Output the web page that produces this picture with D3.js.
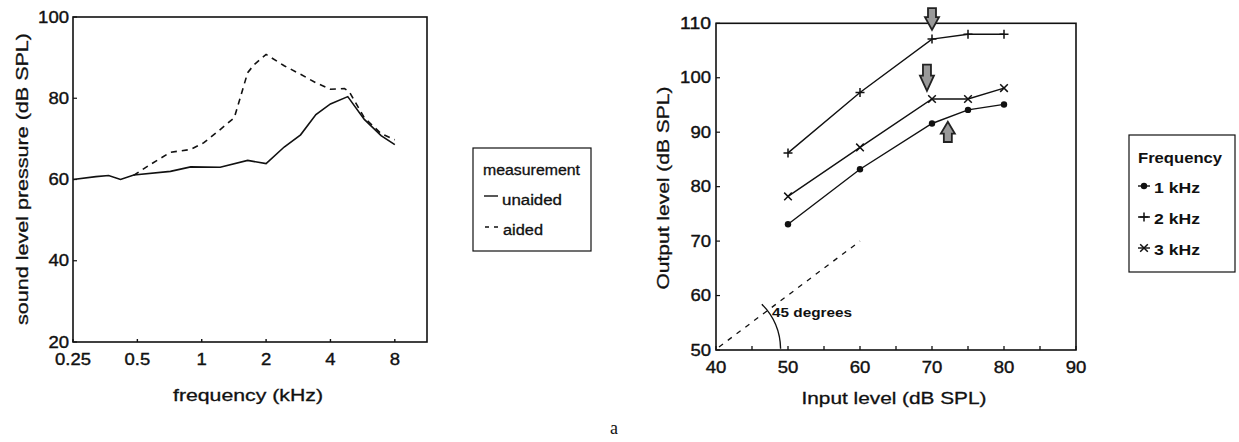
<!DOCTYPE html>
<html><head><meta charset="utf-8">
<script src="https://cdn.jsdelivr.net/npm/d3@7"></script>
<style>
body{margin:0;background:#fff;}
svg{display:block;font-family:"Liberation Sans",Arial,Helvetica,sans-serif;}
</style></head>
<body>
<svg id="c" width="1239" height="442"></svg>
<script>
// ---- Left panel data ----
const freqUnaided = [0.25,0.32,0.367,0.417,0.481,0.714,0.888,1.22,1.64,2.0,2.43,2.9,3.42,4.0,4.82,5.76,6.9,8.0];
const dbUnaided   = [60,60.7,61,60,61.1,62,63.1,63,64.7,63.9,68,71,76,78.6,80.4,74.8,70.8,68.6];
const freqAided = [0.48,0.575,0.714,0.888,1.02,1.22,1.42,1.64,1.76,2.0,2.43,2.9,3.42,4.0,4.65,4.9,5.76,6.9,8.0];
const dbAided   = [61,63.7,66.7,67.4,69,72.3,75.2,86.3,88.3,90.8,88,85.9,83.8,82.2,82.4,81.6,75.2,71.3,69.8];
const leftXTicks = [0.25,0.5,1,2,4,8];
const leftXTickLabels = ["0.25","0.5","1","2","4","8"];
const leftYTicks = [20,40,60,80,100];
const leftLegendLabels = ["unaided","aided"];

// ---- Right panel data ----
const inputLevels = [50,60,70,75,80];
const out1k = [73.1,83.2,91.6,94.1,95.1];
const out2k = [86.2,97.3,107.1,108,108];
const out3k = [78.2,87.2,96.1,96.1,98.1];
const rightLegendLabels = ["1 kHz","2 kHz","3 kHz"];
const rightXTicks = [40,50,60,70,80,90];
const rightXMinor = [45,55,65,75,85];
const rightYTicks = [50,60,70,80,90,100,110];
const diagonalX = [40,60];
const diagonalY = [50,70];
// arrows: x, tail y, tip y (data units)
const arrowX = [70,69.3,72.2];
const arrowTail = [112.8,102.4,88.2];
const arrowTip = [108.8,97.6,91.9];

const svg = d3.select("#c");
const ink = "#111";

function txt(g, x, y, s, opts={}) {
  const t = g.append("text").attr("x", x).attr("y", y).text(s)
    .attr("fill", ink).attr("font-size", opts.size || 17)
    .attr("text-anchor", opts.anchor || "start")
    .attr("dominant-baseline", opts.baseline || "auto");
  if (opts.weight) t.attr("font-weight", opts.weight);
  if (opts.heavy) t.attr("stroke", ink).attr("stroke-width", opts.heavy);
  if (opts.len) t.attr("textLength", opts.len).attr("lengthAdjust","spacingAndGlyphs");
  if (opts.rotate) t.attr("transform", `rotate(${opts.rotate},${x},${y})`);
  if (opts.family) t.attr("font-family", opts.family);
  return t;
}

// ================= LEFT PANEL =================
const L = {l:73, r:427, t:17, b:342};
const xL = d3.scaleLog().base(2).domain([0.25, 8*Math.SQRT2]).range([L.l, L.r]);
const yL = d3.scaleLinear().domain([20,100]).range([L.b, L.t]);
const gL = svg.append("g");

gL.append("rect").attr("x",L.l).attr("y",L.t).attr("width",L.r-L.l).attr("height",L.b-L.t)
  .attr("fill","none").attr("stroke",ink).attr("stroke-width",1.6);

leftYTicks.forEach(v=>{
  gL.append("line").attr("x1",L.l).attr("x2",L.l+4).attr("y1",yL(v)).attr("y2",yL(v)).attr("stroke",ink).attr("stroke-width",1.2);
  txt(gL, L.l-4, yL(v), String(v), {anchor:"end", baseline:"central", size:17, heavy:0.4, len: String(v).length*10.3});
});
leftXTicks.forEach((v,i)=>{
  gL.append("line").attr("x1",xL(v)).attr("x2",xL(v)).attr("y1",L.b).attr("y2",L.b-3).attr("stroke",ink).attr("stroke-width",1.4);
  const s = leftXTickLabels[i];
  txt(gL, xL(v), 359, s, {anchor:"middle", baseline:"central", size:17, heavy:0.4, len: s.replace(".","").length*10.3 + (s.includes(".")?5:0)});
});

const lineL = d3.line().x(d=>xL(d[0])).y(d=>yL(d[1]));
gL.append("path").datum(d3.zip(freqUnaided, dbUnaided)).attr("d", lineL)
  .attr("fill","none").attr("stroke",ink).attr("stroke-width",1.6);
gL.append("path").datum(d3.zip(freqAided, dbAided)).attr("d", lineL)
  .attr("fill","none").attr("stroke",ink).attr("stroke-width",1.6).attr("stroke-dasharray","6,5");

txt(gL, 248, 395, "frequency (kHz)", {anchor:"middle", baseline:"central", size:17, heavy:0.3, len:150});
txt(gL, 22, 179, "sound level pressure (dB SPL)", {anchor:"middle", baseline:"central", size:17, heavy:0.3, len:292, rotate:-90});

// left legend
const lg = svg.append("g");
lg.append("rect").attr("x",473).attr("y",148).attr("width",118).attr("height",103)
  .attr("fill","none").attr("stroke",ink).attr("stroke-width",1.2);
txt(lg, 483, 170, "measurement", {baseline:"central", size:14, heavy:0.3, len:97});
lg.append("line").attr("x1",484).attr("x2",498).attr("y1",196).attr("y2",196).attr("stroke",ink).attr("stroke-width",1.4);
txt(lg, 502, 200, leftLegendLabels[0], {baseline:"central", size:14, heavy:0.3, len:60});
lg.append("line").attr("x1",485).attr("x2",499).attr("y1",227).attr("y2",227).attr("stroke",ink).attr("stroke-width",1.4).attr("stroke-dasharray","4,5");
txt(lg, 503, 230, leftLegendLabels[1], {baseline:"central", size:14, heavy:0.3, len:40});

// ================= RIGHT PANEL =================
const R = {l:716, r:1076, t:23.3, b:350};
const xR = d3.scaleLinear().domain([40,90]).range([R.l, R.r]);
const yR = d3.scaleLinear().domain([50,110]).range([R.b, R.t]);
const gR = svg.append("g");

gR.append("rect").attr("x",R.l).attr("y",R.t).attr("width",R.r-R.l).attr("height",R.b-R.t)
  .attr("fill","none").attr("stroke",ink).attr("stroke-width",1.6);

rightYTicks.forEach(v=>{
  gR.append("line").attr("x1",R.l).attr("x2",R.l+4).attr("y1",yR(v)).attr("y2",yR(v)).attr("stroke",ink).attr("stroke-width",1.2);
  txt(gR, R.l-5, yR(v), String(v), {anchor:"end", baseline:"central", size:17, heavy:0.4, len: String(v).length*10.3});
});
rightXTicks.concat(rightXMinor).forEach(v=>{
  gR.append("line").attr("x1",xR(v)).attr("x2",xR(v)).attr("y1",R.b).attr("y2",R.b-4).attr("stroke",ink).attr("stroke-width",1.3);
});
rightXTicks.forEach(v=>{
  txt(gR, xR(v), 367, String(v), {anchor:"middle", baseline:"central", size:17, heavy:0.4, len: String(v).length*10.3});
});

// 45 degree dashed line
gR.append("line").attr("x1",xR(diagonalX[0])+3).attr("y1",yR(diagonalY[0])-3)
  .attr("x2",xR(diagonalX[1])).attr("y2",yR(diagonalY[1]))
  .attr("stroke",ink).attr("stroke-width",1.3).attr("stroke-dasharray","5,6");
// arc
const cx = xR(40), cy = yR(50), rad = xR(49)-xR(40);
const a0 = -Math.PI/4, a1 = -0.08;
gR.append("path").attr("d", `M${cx+rad*Math.cos(a0)},${cy+rad*Math.sin(a0)} A${rad},${rad} 0 0 1 ${cx+rad*Math.cos(a1)},${cy+rad*Math.sin(a1)+4}`)
  .attr("fill","none").attr("stroke",ink).attr("stroke-width",1.4);
txt(gR, 772, 313, "45 degrees", {baseline:"central", size:12, weight:"bold", len:80});

const lineR = d3.line().x(d=>xR(d[0])).y(d=>yR(d[1]));
const series = [out1k, out2k, out3k];
series.forEach(s=>{
  gR.append("path").datum(d3.zip(inputLevels, s)).attr("d", lineR)
    .attr("fill","none").attr("stroke",ink).attr("stroke-width",1.4);
});
function marker(g, kind, x, y) {
  if (kind===0) g.append("circle").attr("cx",x).attr("cy",y).attr("r",3.2).attr("fill",ink);
  else if (kind===1) g.append("path").attr("d",`M${x-4.5},${y}H${x+4.5}M${x},${y-4.5}V${y+4.5}`).attr("stroke",ink).attr("stroke-width",1.5);
  else g.append("path").attr("d",`M${x-3.8},${y-3.8}L${x+3.8},${y+3.8}M${x-3.8},${y+3.8}L${x+3.8},${y-3.8}`).attr("stroke",ink).attr("stroke-width",1.5);
}
series.forEach((s,k)=>{
  inputLevels.forEach((v,i)=>marker(gR,k,xR(v),yR(s[i])));
});

// arrows
arrowX.forEach((ax,i)=>{
  const x = xR(ax), y0 = yR(arrowTail[i]), y1 = yR(arrowTip[i]);
  const dir = Math.sign(y1-y0); const len = Math.abs(y1-y0);
  const hb = y0 + dir*len*0.42;
  const sw = 4, hw = 7;
  const d = `M${x-sw},${y0}L${x+sw},${y0}L${x+sw},${hb}L${x+hw},${hb}L${x},${y1}L${x-hw},${hb}L${x-sw},${hb}Z`;
  gR.append("path").attr("d",d).attr("fill","#999").attr("stroke","#222").attr("stroke-width",1.8);
});

txt(gR, 894, 398, "Input level (dB SPL)", {anchor:"middle", baseline:"central", size:17, heavy:0.3, len:185});
txt(gR, 663, 188, "Output level (dB SPL)", {anchor:"middle", baseline:"central", size:17, heavy:0.3, len:203, rotate:-90});

// right legend
const rg = svg.append("g");
rg.append("rect").attr("x",1129).attr("y",135).attr("width",106).attr("height",137)
  .attr("fill","none").attr("stroke",ink).attr("stroke-width",1.2);
txt(rg, 1138, 157, "Frequency", {baseline:"central", size:15, weight:"bold", len:84});
const legY = [186,217,248];
rightLegendLabels.forEach((s,k)=>{
  rg.append("line").attr("x1",1138).attr("x2",1150).attr("y1",legY[k]).attr("y2",legY[k]).attr("stroke",ink).attr("stroke-width",1.4);
  marker(rg,k,1144,legY[k]);
  txt(rg, 1154, legY[k]+1, s, {baseline:"central", size:15, weight:"bold", len:46});
});

// panel caption
txt(svg, 614, 428, "a", {anchor:"middle", baseline:"central", size:18, family:"'Liberation Serif',serif"});
</script>
</body></html>
